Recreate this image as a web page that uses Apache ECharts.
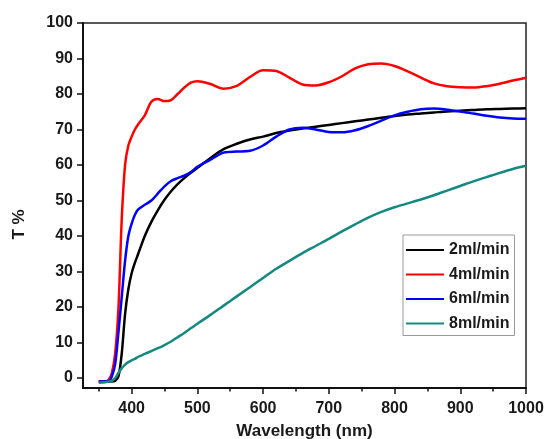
<!DOCTYPE html>
<html>
<head>
<meta charset="utf-8">
<title>T% vs wavelength</title>
<script src="https://cdn.jsdelivr.net/npm/echarts@6/dist/echarts.min.js"></script>
<style>
  html, body { margin: 0; padding: 0; background: #fff; }
  #chart { width: 547px; height: 439px; }
</style>
</head>
<body>
<div id="chart"></div>
<script>
// wavelength (nm) shared by all curves
var wavelength = [350, 360, 365, 370, 375, 380, 385, 390, 395, 400, 405, 410, 420, 430, 440, 450, 460, 470, 480, 490, 500,
  520, 540, 560, 580, 600, 620, 640, 660, 680, 700, 720, 740, 760, 780, 800, 820, 840, 860, 880, 900, 920, 940, 960, 980, 1000];

var t2 = [-1, -1, -1, -1, -0.8, 0.5, 7, 18, 25, 29.5, 32.5, 35, 40, 44, 47.3, 50.2, 52.6, 54.6, 56.3, 57.8, 59.2,
  62, 64.5, 66, 67.2, 68, 69, 69.7, 70.3, 70.8, 71.3, 71.8, 72.3, 72.8, 73.3, 73.8, 74.2, 74.5, 74.8, 75.1, 75.3, 75.5, 75.7, 75.8, 75.9, 76];
var t4 = [-1, -1, -0.5, 1.5, 7, 20, 45, 60, 65.5, 68, 70, 71.5, 74, 77.8, 78.6, 78, 78.3, 80, 81.8, 83.2, 83.6,
  82.8, 81.5, 82.3, 84.8, 86.7, 86.5, 84.6, 82.7, 82.4, 83.3, 85, 87.2, 88.4, 88.6, 87.9, 86.4, 84.6, 83, 82.2, 81.9, 81.8, 82.2, 82.9, 83.8, 84.6];
var t6 = [-1, -1, -1, 0.5, 4, 13, 23, 33, 40, 43.5, 46, 47.5, 48.8, 50, 52, 54, 55.5, 56.3, 57, 58, 59.5,
  61.5, 63.5, 63.8, 64, 65.5, 68, 70, 70.5, 70, 69.3, 69.2, 69.8, 71, 72.5, 74, 75, 75.7, 75.9, 75.6, 75.1, 74.5, 73.9, 73.4, 73.1, 73];
var t8 = [-1.3, -1.2, -1, -0.8, 0, 1.5, 2.8, 3.8, 4.5, 5, 5.4, 6, 6.8, 7.6, 8.4, 9.3, 10.3, 11.5, 12.7, 14, 15.3,
  17.8, 20.4, 23, 25.6, 28.2, 30.8, 33, 35.2, 37.2, 39.2, 41.3, 43.3, 45.2, 46.8, 48.1, 49.2, 50.3, 51.5, 52.8, 54.1, 55.4, 56.6, 57.8, 58.9, 59.8];

var seriesNames = ['2ml/min', '4ml/min', '6ml/min', '8ml/min'];
var seriesColors = ['#000000', '#ff0000', '#0000ff', '#14897f'];

var xTicks = [400, 500, 600, 700, 800, 900, 1000];
var xMinorTicks = [350, 450, 550, 650, 750, 850, 950];
var yTicks = [0, 10, 20, 30, 40, 50, 60, 70, 80, 90, 100];

function pairs(ys) {
  return wavelength.map(function (x, i) { return [x, ys[i]]; });
}

var chart = echarts.init(document.getElementById('chart'));
var font = { fontFamily: 'Liberation Sans, Arial, sans-serif', fontWeight: 'bold', color: '#1a1a1a' };
var plain = function (v) { return String(v); };

var option = {
  animation: false,
  grid: {
    left: 83, right: 21, top: 23, bottom: 51,
    outerBoundsMode: 'none', containLabel: false,
    show: true, borderColor: '#222', borderWidth: 1.5
  },
  legend: {
    orient: 'vertical',
    left: 403,
    top: 235,
    padding: [7, 5, 4, 2],
    itemWidth: 38,
    itemHeight: 14,
    itemGap: 8.5,
    borderColor: '#999',
    borderWidth: 1,
    itemStyle: { opacity: 0 },
    data: seriesNames,
    textStyle: Object.assign({ fontSize: 16 }, font)
  },
  xAxis: [
    {
      type: 'value', min: 326, max: 1000,
      name: 'Wavelength (nm)', nameLocation: 'middle', nameGap: 35,
      nameTextStyle: Object.assign({ fontSize: 17 }, font),
      axisLine: { onZero: false, lineStyle: { color: '#111', width: 2 } },
      axisTick: { customValues: xTicks, length: 6, lineStyle: { color: '#111', width: 1.5 } },
      axisLabel: Object.assign({ customValues: xTicks, fontSize: 16, margin: 13, formatter: plain }, font),
      splitLine: { show: false }
    },
    {
      type: 'value', min: 326, max: 1000, position: 'bottom',
      axisLine: { show: false, onZero: false },
      axisTick: { customValues: xMinorTicks, length: 3.5, lineStyle: { color: '#111', width: 1.5 } },
      axisLabel: { show: false },
      splitLine: { show: false }
    }
  ],
  yAxis: {
    type: 'value', min: -2.8, max: 100,
    name: 'T %', nameLocation: 'middle', nameRotate: 90, nameGap: 55,
    nameTextStyle: Object.assign({ fontSize: 17, padding: [0, 38, 0, 0] }, font),
    axisLine: { show: true, onZero: false, lineStyle: { color: '#111', width: 2 } },
    axisTick: { show: true, customValues: yTicks, length: 6, lineStyle: { color: '#111', width: 1.5 } },
    axisLabel: Object.assign({ customValues: yTicks, fontSize: 16, margin: 10, formatter: plain }, font),
    splitLine: { show: false }
  },
  series: [t2, t4, t6, t8].map(function (ys, i) {
    return {
      name: seriesNames[i],
      type: 'line',
      data: pairs(ys),
      smooth: 0.3,
      symbol: 'none',
      color: seriesColors[i],
      lineStyle: { color: seriesColors[i], width: 2.5 }
    };
  })
};

chart.setOption(option);
</script>
</body>
</html>
